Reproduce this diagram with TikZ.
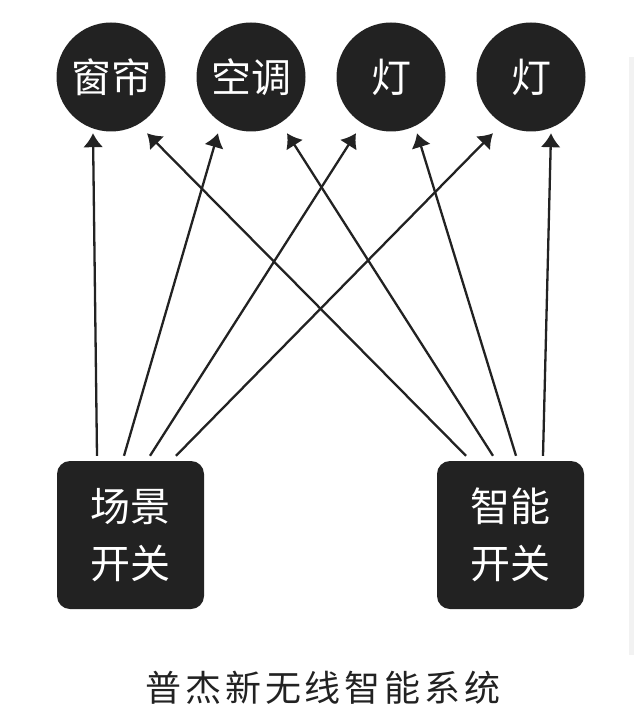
\documentclass[tikz,border=0pt]{standalone}
\usepackage{fontspec}
\setmainfont{Noto Sans CJK SC}
\newfontfamily\titlefont[LetterSpace=11]{Noto Sans CJK SC}
\usetikzlibrary{arrows.meta}
\definecolor{darkfill}{HTML}{222222}

\begin{document}
\begin{tikzpicture}[x=1pt,y=-1pt]
\tikzset{link/.style = {-{Latex[length=14pt,width=20pt]}, line width=2.3pt, draw=darkfill},
  device/.style = {shape=circle, fill=darkfill, minimum size=109pt, inner sep=0pt, text=white, font=\fontsize{40}{48}\selectfont},
  switchbox/.style = {rectangle, rounded corners=13pt, fill=darkfill, minimum width=147pt, minimum height=148pt, inner sep=0pt, text=white, align=center, font=\fontsize{40}{57}\selectfont}}

\useasboundingbox (0,0) rectangle (634,719);
\fill[black!5] (629,57) rectangle (634,655);

\node[device] (curtain) at (111,77) {窗帘};
\node[device] (aircon) at (251,77) {空调};
\node[device] (lampA) at (391,77) {灯};
\node[device] (lampB) at (531,77) {灯};
\node[switchbox] (scene) at (130.5,535) {场景\\开关};
\node[switchbox] (smart) at (510.5,535) {智能\\开关};
\node[font=\titlefont\fontsize{36}{40}\selectfont, text=darkfill] (title) at (323,688) {普杰新无线智能系统};

\path

([xshift=-33.5pt,yshift=5pt]scene.north) edge[link] ([xshift=-18pt,yshift=-1.5pt]curtain.south)
([xshift=-6.5pt,yshift=5pt]scene.north) edge[link] ([xshift=-33pt,yshift=-1.5pt]aircon.south)
([xshift=19.5pt,yshift=5pt]scene.north) edge[link] ([xshift=-35pt,yshift=-1.5pt]lampA.south)
([xshift=45.5pt,yshift=5pt]scene.north) edge[link] ([xshift=-38pt,yshift=-1.5pt]lampB.south)
([xshift=-44.5pt,yshift=5pt]smart.north) edge[link] ([xshift=36pt,yshift=-1.5pt]curtain.south)
([xshift=-17.5pt,yshift=5pt]smart.north) edge[link] ([xshift=36pt,yshift=-1.5pt]aircon.south)
([xshift=5.5pt,yshift=5pt]smart.north) edge[link] ([xshift=26pt,yshift=-1.5pt]lampA.south)
([xshift=32.5pt,yshift=5pt]smart.north) edge[link] ([xshift=20pt,yshift=-1.5pt]lampB.south)
;

\end{tikzpicture}
\end{document}
